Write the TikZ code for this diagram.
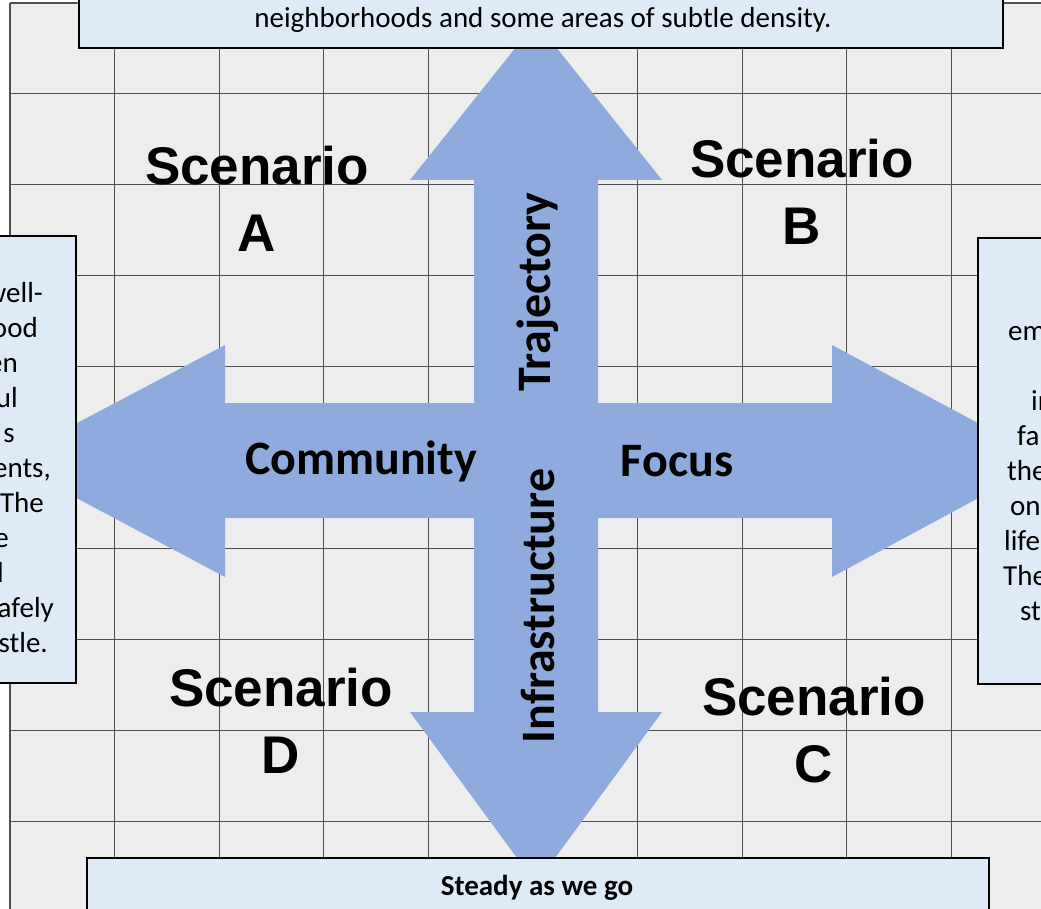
\documentclass[tikz,border=0pt]{standalone}
\usepackage{fontspec}
\setmainfont{Carlito}
\newfontfamily\arialfont{Liberation Sans}
\definecolor{bggray}{HTML}{EDEDED}
\definecolor{gridc}{HTML}{505050}
\definecolor{boxfill}{HTML}{DEEAF6}
\definecolor{arrowc}{HTML}{8FAADC}
\tikzset{
  gridline/.style={draw=gridc, line width=1.2pt},
  infobox/.style={draw=black, line width=2.5pt, fill=boxfill},
  scen/.style={font=\arialfont\bfseries\fontsize{53}{67}\selectfont, align=center, inner sep=0pt},
  axis/.style={font=\bfseries\fontsize{48}{50}\selectfont, inner sep=0pt},
  bodytxt/.style={font=\fontsize{29}{35}\selectfont, inner sep=0pt},
}
\begin{document}
\begin{tikzpicture}[x=1pt,y=-1pt]
\useasboundingbox (0,0) rectangle (1041,909);
% background
\fill[bggray] (10,3) rectangle (1060,930);
\foreach \k in {0,...,9} {
  \draw[gridline] ({10+104.6*\k},3) -- ({10+104.6*\k},930);
  \draw[gridline] (10,{3+90.9*\k}) -- (1060,{3+90.9*\k});
}
% cross arrow
\fill[arrowc] (536,22) -- (662,180) -- (598,180) -- (598,403) -- (832,403) -- (832,345)
  -- (1048,460.5) -- (832,577) -- (832,518) -- (598,518) -- (598,712) -- (662,712)
  -- (536,884) -- (410,712) -- (474,712) -- (474,518) -- (225,518) -- (225,577)
  -- (6,460.5) -- (225,345) -- (225,403) -- (474,403) -- (474,180) -- (410,180) -- cycle;
% boxes
\draw[infobox] (79,-20) rectangle (1003,48);
\draw[infobox] (-300,236) rectangle (76,683);
\draw[infobox] (978,238) rectangle (1400,684);
\draw[infobox] (87,858) rectangle (989,950);
% box texts
\node[bodytxt] (toptext) at (543,20) {neighborhoods and some areas of subtle density.};
\node[bodytxt, font=\bfseries\fontsize{29}{35}\selectfont] (bottext) at (537,888) {Steady as we go};
% left box fragments
\node[bodytxt, anchor=mid east] (l1) at (43,300) {well-};
\node[bodytxt, anchor=mid east] (l2) at (38,335) {ood};
\node[bodytxt, anchor=mid east] (l3) at (18,370) {en};
\node[bodytxt, anchor=mid east] (l4) at (18,405) {ul};
\node[bodytxt, anchor=mid east] (l5) at (15,440) {s};
\node[bodytxt, anchor=mid east] (l6) at (51,475) {ents,};
\node[bodytxt, anchor=mid east] (l7) at (44,510) {The};
\node[bodytxt, anchor=mid east] (l8) at (9,545) {e};
\node[bodytxt, anchor=mid east] (l9) at (4,580) {l};
\node[bodytxt, anchor=mid east] (l10) at (54,615) {afely};
\node[bodytxt, anchor=mid east] (l11) at (48,650) {stle.};
% right box fragments
\node[bodytxt, anchor=mid west] (r1) at (1008,338) {em};
\node[bodytxt, anchor=mid west] (r2) at (1031,408) {in};
\node[bodytxt, anchor=mid west] (r3) at (1017,443) {fa};
\node[bodytxt, anchor=mid west] (r4) at (1007,478) {the};
\node[bodytxt, anchor=mid west] (r5) at (1010,513) {on};
\node[bodytxt, anchor=mid west] (r6) at (1004,548) {life};
\node[bodytxt, anchor=mid west] (r7) at (1003,583) {The};
\node[bodytxt, anchor=mid west] (r8) at (1020,618) {st};
% scenarios
\node[scen] (sa) at (257,199) {Scenario\\A};
\node[scen] (sb) at (802,192) {Scenario\\B};
\node[scen] (sd) at (281,721) {Scenario\\D};
\node[scen] (sc) at (814,730) {Scenario\\C};
% axis labels
\node[axis] (comm) at (361,461) {Community};
\node[axis] (focus) at (677,461) {Focus};
\node[axis, rotate=90] (traj) at (538,292) {Trajectory};
\node[axis, rotate=90] (infra) at (538,606) {Infrastructure};
\end{tikzpicture}
\end{document}
